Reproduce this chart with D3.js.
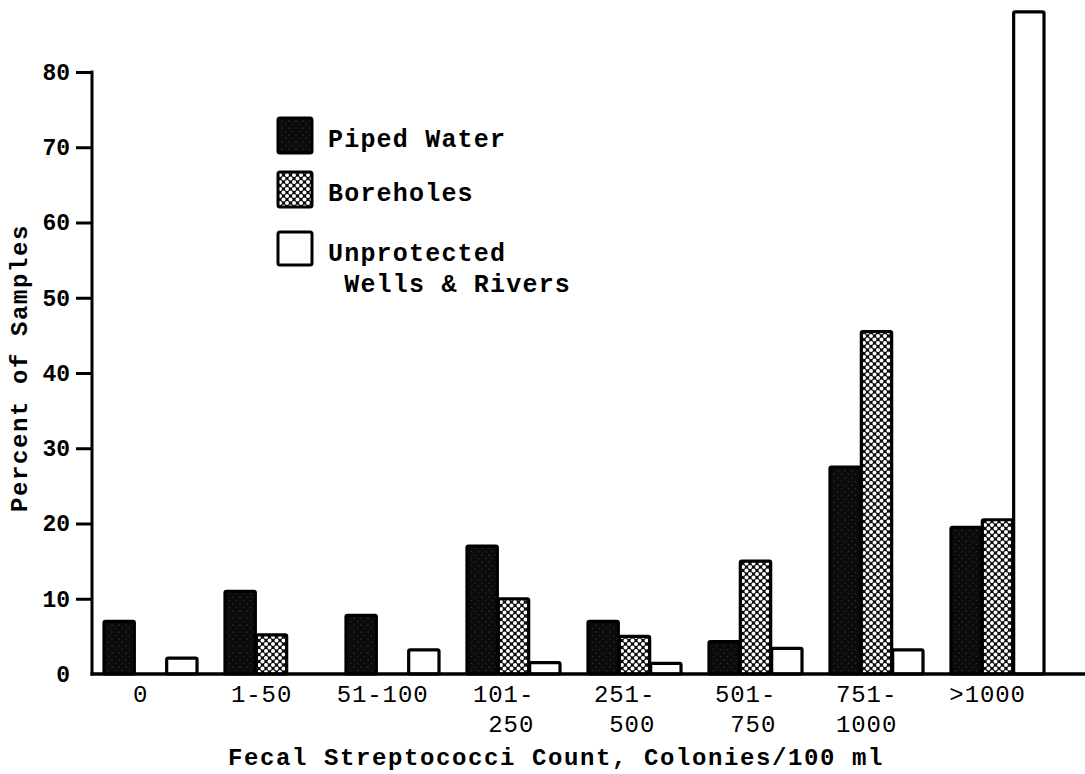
<!DOCTYPE html>
<html lang="en">
<head>
<meta charset="UTF-8">
<title>Fecal Streptococci</title>
<script src="https://d3js.org/d3.v7.min.js"></script>
<style>
  body { margin: 0; background: #fff; }
  text { font-family: "Liberation Mono", "DejaVu Sans Mono", monospace; fill: #000; }
</style>
</head>
<body>
<div id="chart"></div>
<script>
// categories and series
const categories = ["0", "1-50", "51-100", "101-250", "251-500", "501-750", "751-1000", ">1000"];
const catLines = [["0"], ["1-50"], ["51-100"], ["101-", "250"], ["251-", "500"], ["501-", "750"], ["751-", "1000"], [">1000"]];
const series = ["Piped Water", "Boreholes", "Unprotected Wells & Rivers"];
const piped = [7, 11, 7.8, 17, 7, 4.3, 27.5, 19.5];
const boreholes = [0, 5.2, 0, 10, 5, 15, 45.5, 20.5];
const unprotected = [2.1, 0, 3.2, 1.5, 1.4, 3.4, 3.2, 88];
const yTicks = [0, 10, 20, 30, 40, 50, 60, 70, 80];

const width = 1085, height = 774;
const values = [piped, boreholes, unprotected];

const svg = d3.select("#chart").append("svg")
  .attr("width", width)
  .attr("height", height);

// patterns
const defs = svg.append("defs");
const dark = defs.append("pattern")
  .attr("id", "dark").attr("patternUnits", "userSpaceOnUse")
  .attr("width", 7).attr("height", 7);
dark.append("rect").attr("width", 7).attr("height", 7).attr("fill", "#0b0b0b");
dark.append("circle").attr("cx", 2).attr("cy", 2).attr("r", 0.6).attr("fill", "#555");
dark.append("circle").attr("cx", 5.5).attr("cy", 5.5).attr("r", 0.5).attr("fill", "#444");

const P = 7;
const dots = defs.append("pattern")
  .attr("id", "dots").attr("patternUnits", "userSpaceOnUse")
  .attr("width", P).attr("height", P);
dots.append("rect").attr("width", P).attr("height", P).attr("fill", "#0b0b0b");
[[0, 0], [P, 0], [0, P], [P, P], [P / 2, P / 2]].forEach(([cx, cy]) => {
  dots.append("circle").attr("cx", cx).attr("cy", cy).attr("r", 2).attr("fill", "#fff");
});

const fills = ["url(#dark)", "url(#dots)", "#fff"];

const x = d3.scaleBand()
  .domain(categories)
  .range([103, 1044])
  .paddingInner(0.223)
  .paddingOuter(0);

const xs = d3.scaleBand()
  .domain(d3.range(series.length))
  .range([0, x.bandwidth()]);

const y = d3.scaleLinear()
  .domain([0, 80])
  .range([674, 72]);

// bars
const groups = svg.selectAll("g.grp")
  .data(categories)
  .join("g")
  .attr("class", "grp")
  .attr("transform", d => `translate(${x(d)},0)`);

groups.selectAll("rect")
  .data((d, i) => values.map((v, s) => ({ s, v: v[i] })).filter(o => o.v > 0))
  .join("rect")
  .attr("x", d => xs(d.s) + 1)
  .attr("y", d => y(d.v))
  .attr("width", xs.bandwidth() - 1)
  .attr("height", d => y(0) - y(d.v))
  .attr("rx", 1.5)
  .attr("fill", d => fills[d.s])
  .attr("stroke", "#000")
  .attr("stroke-width", 3.2);

// y axis
const yAxis = svg.append("g")
  .attr("transform", "translate(92,0)")
  .call(d3.axisLeft(y).tickValues(yTicks).tickSize(16).tickPadding(6));
yAxis.select(".domain").remove();
yAxis.selectAll(".tick line").attr("stroke", "#000").attr("stroke-width", 3)
  .filter(d => d === 0).remove();
yAxis.selectAll(".tick text")
  .style("font-size", "23px").style("font-weight", "bold");

svg.append("line")
  .attr("x1", 92).attr("x2", 92)
  .attr("y1", y(80) - 1.5).attr("y2", y(0) + 1.5)
  .attr("stroke", "#000").attr("stroke-width", 3);

// x axis line
svg.append("line")
  .attr("x1", 90.5).attr("x2", width)
  .attr("y1", y(0)).attr("y2", y(0))
  .attr("stroke", "#000").attr("stroke-width", 3.5);

// category labels: first line centred, second line right-aligned to first
const labels = svg.append("g").selectAll("text")
  .data(categories)
  .join("text")
  .attr("text-anchor", "middle")
  .attr("x", d => x(d) + x.bandwidth() * 0.4)
  .attr("y", 702)
  .style("font-size", "24px")
  .style("letter-spacing", "0.9px")
  .text((d, i) => catLines[i][0]);

labels.each(function (d, i) {
  if (catLines[i].length < 2) return;
  const w = this.getComputedTextLength();
  const right = x(d) + x.bandwidth() * 0.4 + w / 2;
  svg.append("text")
    .attr("text-anchor", "end")
    .attr("x", right)
    .attr("y", 732)
    .style("font-size", "24px")
    .style("letter-spacing", "0.9px")
    .text(catLines[i][1]);
});

// axis titles
svg.append("text")
  .attr("x", 556).attr("y", 765)
  .attr("text-anchor", "middle")
  .style("font-size", "24px").style("font-weight", "bold").style("letter-spacing", "1.6px")
  .text("Fecal Streptococci Count, Colonies/100 ml");

svg.append("text")
  .attr("transform", "translate(27,368) rotate(-90)")
  .attr("text-anchor", "middle")
  .style("font-size", "24px").style("font-weight", "bold").style("letter-spacing", "1.6px")
  .text("Percent of Samples");

// legend
const legendRows = [
  { lines: ["Piped Water"], y: 118, h: 35 },
  { lines: ["Boreholes"], y: 172, h: 35 },
  { lines: ["Unprotected", " Wells & Rivers"], y: 232, h: 33 }
];
const leg = svg.append("g").selectAll("g")
  .data(legendRows)
  .join("g");
leg.append("rect")
  .attr("x", 278).attr("y", d => d.y)
  .attr("width", 34).attr("height", d => d.h)
  .attr("rx", 2)
  .attr("fill", (d, i) => fills[i])
  .attr("stroke", "#000").attr("stroke-width", 3);
leg.append("text")
  .attr("x", 328).attr("y", d => d.y + 29)
  .style("font-size", "25px").style("font-weight", "bold")
  .style("letter-spacing", "1.2px")
  .style("white-space", "pre")
  .selectAll("tspan")
  .data(d => d.lines)
  .join("tspan")
  .attr("x", 328)
  .attr("dy", (d, i) => i === 0 ? 0 : 31)
  .text(d => d);
</script>
</body>
</html>
